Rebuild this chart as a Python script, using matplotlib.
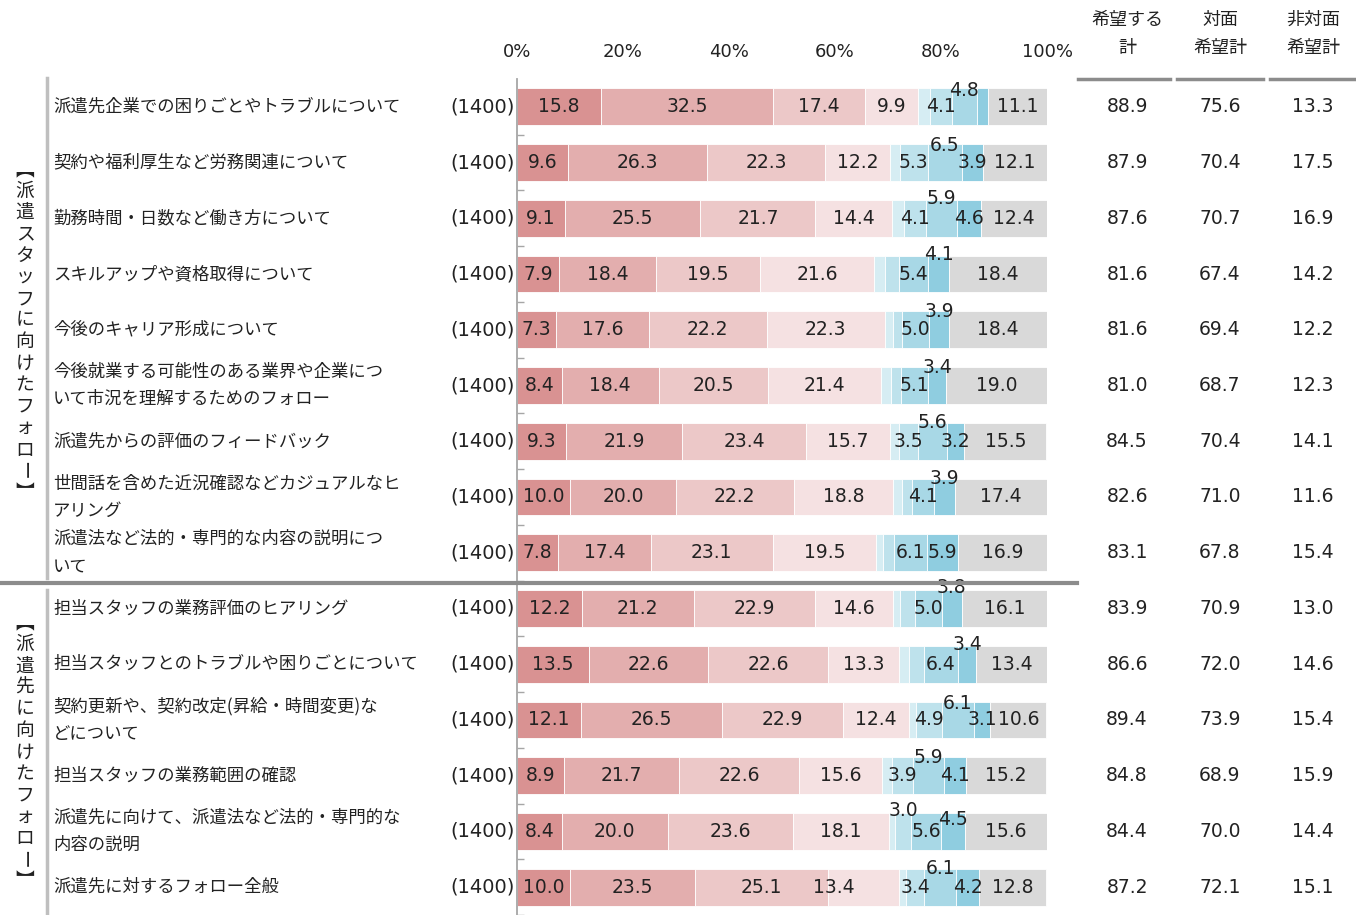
import matplotlib
matplotlib.use('Agg')
import matplotlib.pyplot as plt
import matplotlib.transforms as mtransforms
from matplotlib.lines import Line2D
import numpy as np

plt.rcParams['font.family'] = ['Noto Sans CJK JP', 'DejaVu Sans']
num_font = ['DejaVu Sans']

labels = [
    '派遣先企業での困りごとやトラブルについて',
    '契約や福利厚生など労務関連について',
    '勤務時間・日数など働き方について',
    'スキルアップや資格取得について',
    '今後のキャリア形成について',
    '今後就業する可能性のある業界や企業につ\nいて市況を理解するためのフォロー',
    '派遣先からの評価のフィードバック',
    '世間話を含めた近況確認などカジュアルなヒ\nアリング',
    '派遣法など法的・専門的な内容の説明につ\nいて',
    '担当スタッフの業務評価のヒアリング',
    '担当スタッフとのトラブルや困りごとについて',
    '契約更新や、契約改定(昇給・時間変更)な\nどについて',
    '担当スタッフの業務範囲の確認',
    '派遣先に向けて、派遣法など法的・専門的な\n内容の説明',
    '派遣先に対するフォロー全般',
]
n_size = [1400] * 15

# face-to-face (4 levels), remote (4 levels), not needed
face_a = [15.8, 9.6, 9.1, 7.9, 7.3, 8.4, 9.3, 10.0, 7.8, 12.2, 13.5, 12.1, 8.9, 8.4, 10.0]
face_b = [32.5, 26.3, 25.5, 18.4, 17.6, 18.4, 21.9, 20.0, 17.4, 21.2, 22.6, 26.5, 21.7, 20.0, 23.5]
face_c = [17.4, 22.3, 21.7, 19.5, 22.2, 20.5, 23.4, 22.2, 23.1, 22.9, 22.6, 22.9, 22.6, 23.6, 25.1]
face_d = [9.9, 12.2, 14.4, 21.6, 22.3, 21.4, 15.7, 18.8, 19.5, 14.6, 13.3, 12.4, 15.6, 18.1, 13.4]
remote_a = [2.3, 1.8, 2.3, 2.1, 1.6, 1.8, 1.8, 1.7, 1.3, 1.4, 2.0, 1.3, 2.0, 1.3, 1.4]
remote_b = [4.1, 5.3, 4.1, 2.6, 1.7, 2.0, 3.5, 1.9, 2.1, 2.8, 2.8, 4.9, 3.9, 3.0, 3.4]
remote_c = [4.8, 6.5, 5.9, 5.4, 5.0, 5.1, 5.6, 4.1, 6.1, 5.0, 6.4, 6.1, 5.9, 5.6, 6.1]
remote_d = [2.1, 3.9, 4.6, 4.1, 3.9, 3.4, 3.2, 3.9, 5.9, 3.8, 3.4, 3.1, 4.1, 4.5, 4.2]
no_need = [11.1, 12.1, 12.4, 18.4, 18.4, 19.0, 15.5, 17.4, 16.9, 16.1, 13.4, 10.6, 15.2, 15.6, 12.8]

total_want = [88.9, 87.9, 87.6, 81.6, 81.6, 81.0, 84.5, 82.6, 83.1, 83.9, 86.6, 89.4, 84.8, 84.4, 87.2]
face_want = [75.6, 70.4, 70.7, 67.4, 69.4, 68.7, 70.4, 71.0, 67.8, 70.9, 72.0, 73.9, 68.9, 70.0, 72.1]
remote_want = [13.3, 17.5, 16.9, 14.2, 12.2, 12.3, 14.1, 11.6, 15.4, 13.0, 14.6, 15.4, 15.9, 14.4, 15.1]

table_heads = ['希望する\n計', '対面\n希望計', '非対面\n希望計']
group_titles = ['︻派遣スタッフに向けたフォロー︼', '︻派遣先に向けたフォロー︼']

series = [face_a, face_b, face_c, face_d, remote_a, remote_b, remote_c, remote_d, no_need]
colors = ['#d99292', '#e3aeae', '#ecc8c8', '#f5e1e2',
          '#d6edf3', '#bee2ec', '#a8d8e6', '#8fcde0', '#d9d9d9']

# labels lifted above the bar (row, segment): lift in row units
lifted = {(0, 6): 0.3, (1, 6): 0.3, (2, 6): 0.35, (3, 7): 0.35, (4, 7): 0.33,
          (5, 7): 0.33, (6, 6): 0.33, (7, 7): 0.33, (9, 7): 0.37, (10, 7): 0.35,
          (11, 6): 0.3, (12, 6): 0.33, (13, 5): 0.37, (13, 7): 0.22, (14, 6): 0.33}
shifted = {(14, 3): -5.5}

W, H = 1356, 915
fig = plt.figure(figsize=(W / 100, H / 100), dpi=100)
ax = fig.add_axes([517 / W, 0, (1047 - 517) / W, (915 - 79) / H])

y = np.arange(len(labels))
left = np.zeros(len(labels))
for k, (vals, c) in enumerate(zip(series, colors)):
    vals = np.array(vals)
    ax.barh(y, vals, left=left, height=0.66, color=c, edgecolor='white', linewidth=0.6)
    for i in range(len(labels)):
        if vals[i] >= 3:
            xc = left[i] + vals[i] / 2 + shifted.get((i, k), 0)
            yc = y[i] - lifted.get((i, k), 0)
            ax.text(xc, yc, f'{vals[i]:.1f}', ha='center', va='center',
                    fontsize=13.5, family=num_font, color='#222222')
    left += vals

ax.set_xlim(0, 100)
ax.set_ylim(14.43, -0.5)
ax.xaxis.tick_top()
ax.set_xticks(range(0, 101, 20))
ax.set_xticklabels([f'{v}%' for v in range(0, 101, 20)], family=num_font)
ax.tick_params(axis='x', length=0, pad=13, labelsize=13, colors='#222222')
ax.set_yticks(np.arange(len(labels)) + 0.5)
ax.set_yticklabels([])
ax.tick_params(axis='y', direction='in', length=5, color='#a6a6a6', width=1)
for s in ['top', 'right', 'bottom']:
    ax.spines[s].set_visible(False)
ax.spines['left'].set_color('#a6a6a6')
ax.spines['left'].set_linewidth(1.3)

trans = mtransforms.blended_transform_factory(fig.transFigure, ax.transData)
for i, lab in enumerate(labels):
    ax.text(53 / W, i, lab, transform=trans, ha='left', va='center',
            fontsize=12.5, linespacing=1.65, color='#222222')
    ax.text(515 / W, i, f'({n_size[i]})', transform=trans, ha='right', va='center',
            fontsize=14, family=num_font, color='#222222')
    for xc, col in zip([1127, 1220, 1313], [total_want, face_want, remote_want]):
        ax.text(xc / W, i, f'{col[i]:.1f}', transform=trans, ha='center', va='center',
                fontsize=13.5, family=num_font, color='#222222')

# table header
for xc, head, (x0, x1) in zip([1127, 1220, 1313], table_heads,
                              [(1078, 1170), (1177, 1263), (1270, 1356)]):
    fig.text(xc / W, 1 - 34 / H, head, ha='center', va='center', fontsize=13,
             linespacing=1.75, color='#222222')
    fig.add_artist(Line2D([x0 / W, x1 / W], [1 - 79 / H] * 2, color='#8c8c8c', lw=2.5))

# group brackets
fig.add_artist(Line2D([47 / W] * 2, [1 - 78 / H, 1 - 578 / H], color='#bfbfbf', lw=2.5))
fig.add_artist(Line2D([47 / W] * 2, [1 - 590 / H, 1 - 915 / H], color='#bfbfbf', lw=2.5))
fig.add_artist(Line2D([0, 1077 / W], [1 - 583 / H] * 2, color='#8c8c8c', lw=3))

# vertical group titles, one character at a time
for title, yc in zip(group_titles, [331, 752]):
    step = 21.5
    start = yc - step * (len(title) - 1) / 2
    for j, ch in enumerate(title):
        rot = -90 if ch == 'ー' else 0
        fig.text(25 / W, 1 - (start + j * step) / H, ch, ha='center', va='center',
                 fontsize=13.5, rotation=rot, color='#222222')

fig.savefig('out.png', dpi=100)
